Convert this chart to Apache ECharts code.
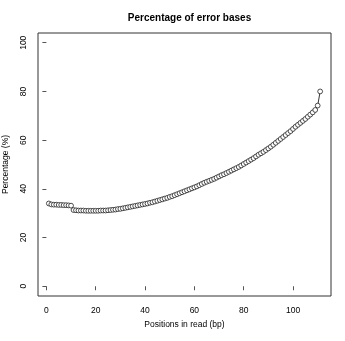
<!DOCTYPE html>
<html>
<head>
<meta charset="utf-8">
<style>
  html, body { margin: 0; padding: 0; background: #fff; }
  #chart { width: 345px; height: 341px; }
</style>
<script src="https://cdn.jsdelivr.net/npm/echarts@6/dist/echarts.min.js"></script>
</head>
<body>
<div id="chart"></div>
<script>
// Error-base percentage at each read position (bp 1..111)
const positions = Array.from({ length: 111 }, (_, i) => i + 1);
const errorPct = [
  34.0, 33.6, 33.5, 33.5, 33.4, 33.4, 33.3, 33.3, 33.2, 33.1,
  31.3, 31.2, 31.1, 31.1, 31.1, 31.0, 31.0, 31.0, 31.0, 31.0,
  31.0, 31.1, 31.1, 31.1, 31.2, 31.3, 31.4, 31.5, 31.7, 31.8,
  32.0, 32.2, 32.4, 32.6, 32.8, 33.0, 33.2, 33.4, 33.6, 33.8,
  34.0, 34.3, 34.5, 34.8, 35.1, 35.4, 35.7, 36.0, 36.3, 36.7,
  37.0, 37.4, 37.8, 38.2, 38.6, 39.0, 39.4, 39.8, 40.2, 40.6,
  41.0, 41.5, 42.0, 42.5, 42.9, 43.3, 43.7, 44.1, 44.6, 45.1,
  45.6, 46.0, 46.5, 47.0, 47.5, 48.0, 48.5, 49.0, 49.6, 50.2,
  50.8, 51.4, 52.0, 52.6, 53.3, 54.0, 54.6, 55.2, 55.9, 56.6,
  57.3, 58.1, 58.9, 59.7, 60.5, 61.3, 62.1, 62.9, 63.7, 64.6,
  65.5, 66.3, 67.1, 67.9, 68.7, 69.6, 70.5, 71.4, 72.4, 74.2,
  80.0
];
const xTicks = [0, 20, 40, 60, 80, 100];
const yTicks = [0, 20, 40, 60, 80, 100];

const chart = echarts.init(document.getElementById('chart'), null, { renderer: 'canvas' });
const font = '"Liberation Sans", Arial, Helvetica, sans-serif';

chart.setOption({
  animation: false,
  backgroundColor: '#fff',
  title: {
    text: 'Percentage of error bases',
    left: 184.5,
    textAlign: 'center',
    top: 8,
    textStyle: { fontFamily: font, fontSize: 10, fontWeight: 'bold', color: '#000' }
  },
  grid: {
    left: 38, right: 14, top: 33, bottom: 45,
    outerBoundsMode: 'none',
    containLabel: false,
    show: true, borderColor: '#333', borderWidth: 1, backgroundColor: 'transparent'
  },
  xAxis: {
    type: 'value',
    min: -3.4, max: 115.4,
    name: 'Positions in read (bp)',
    nameLocation: 'middle',
    nameGap: 24,
    nameTextStyle: { fontFamily: font, fontSize: 8.5, color: '#000' },
    axisLine: { show: false },
    splitLine: { show: false },
    axisTick: { show: true, length: 4, customValues: xTicks, lineStyle: { color: '#555' } },
    axisLabel: { customValues: xTicks, margin: 10, fontFamily: font, fontSize: 8.5, color: '#000' }
  },
  yAxis: {
    type: 'value',
    min: -4, max: 104,
    name: 'Percentage (%)',
    nameLocation: 'middle',
    nameGap: 28,
    nameTextStyle: { fontFamily: font, fontSize: 8.5, color: '#000' },
    axisLine: { show: false },
    splitLine: { show: false },
    axisTick: { show: true, length: 4, customValues: yTicks, lineStyle: { color: '#555' } },
    axisLabel: { customValues: yTicks, rotate: 90, margin: 10, fontFamily: font, fontSize: 8.5, color: '#000' }
  },
  series: [{
    type: 'line',
    data: positions.map((p, i) => [p, errorPct[i]]),
    symbol: 'circle',
    symbolSize: 4.8,
    showAllSymbol: true,
    lineStyle: { color: '#000', width: 0.8 },
    itemStyle: { color: '#fff', borderColor: '#222', borderWidth: 0.8 }
  }]
});
</script>
</body>
</html>
